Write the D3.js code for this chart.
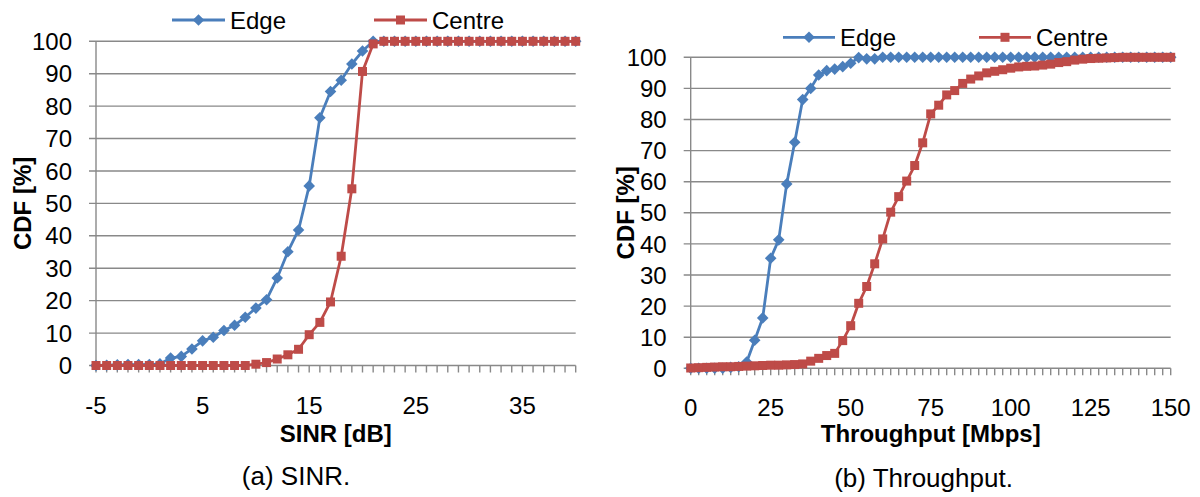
<!DOCTYPE html>
<html><head><meta charset="utf-8">
<script src="https://cdn.jsdelivr.net/npm/d3@7/dist/d3.min.js"></script>
<style>
body{margin:0;background:#fff;}
svg{display:block;font-family:"Liberation Sans",Arial,sans-serif;}
</style>
</head><body>
<svg id="chart" width="1200" height="497"></svg>
<script>
// ---------- DATA ----------
const seriesNames = ["Edge", "Centre"];
const yTickLabels = [0,10,20,30,40,50,60,70,80,90,100];

// (a) SINR panel
const sinrCategories = [-5,-4,-3,-2,-1,0,1,2,3,4,5,6,7,8,9,10,11,12,13,14,15,16,17,18,19,20,
  21,22,23,24,25,26,27,28,29,30,31,32,33,34,35,36,37,38,39,40];
const sinrTickLabels = [-5,5,15,25,35];
const sinrEdge = [0,0.1,0.2,0.3,0.3,0.3,0.5,2.3,2.8,5.1,7.6,8.7,10.8,12.4,14.9,17.7,20.3,27.0,35.1,41.8,
  55.4,76.4,84.5,88.0,93.0,97.0,100,100,100,100,100,100,100,100,100,100,100,100,100,100,100,100,100,100,100,100];
const sinrCentre = [0,0,0,0,0,0,0,0,0,0,0,0,0,0,0,0.4,0.9,2.0,3.3,5.0,
  9.5,13.3,19.6,33.7,54.5,90.7,99.2,100,100,100,100,100,100,100,100,100,100,100,100,100,100,100,100,100,100,100];

// (b) Throughput panel
const tputCategories = [0,2.5,5,7.5,10,12.5,15,17.5,20,22.5,25,27.5,30,32.5,35,37.5,40,42.5,45,47.5,
  50,52.5,55,57.5,60,62.5,65,67.5,70,72.5,75,77.5,80,82.5,85,87.5,90,92.5,95,97.5,
  100,102.5,105,107.5,110,112.5,115,117.5,120,122.5,125,127.5,130,132.5,135,137.5,140,142.5,145,147.5,150];
const tputTickLabels = [0,25,50,75,100,125,150];
const tputEdge = [0,0,0,0,0,0.3,0.5,2.0,9.0,16.2,35.4,41.3,59.3,72.7,86.4,90.0,94.3,95.7,96.2,97.0,
  98.1,99.9,99.5,99.5,100,100,100,100,100,100,100,100,100,100,100,100,100,100,100,100,
  100,100,100,100,100,100,100,100,100,100,100,100,100,100,100,100,100,100,100,100,100];
const tputCentre = [0.1,0.2,0.3,0.4,0.5,0.5,0.6,0.7,0.8,0.9,1.0,1.0,1.1,1.2,1.4,2.3,3.2,4.1,4.8,8.9,
  13.7,20.9,26.3,33.6,41.6,50.2,55.2,60.2,65.2,72.5,81.8,84.6,87.9,89.3,91.6,93.0,94.0,95.0,95.5,96.0,
  96.5,96.9,97.1,97.2,97.5,97.8,98.3,98.6,99.1,99.4,99.6,99.7,99.8,99.9,100,100,100,100,100,100,100];

// ---------- STYLE ----------
const COLORS = {Edge: "#4a7ebb", Centre: "#be4b48"};
const GRID = "#898989";
const FONT = 24;

const svg = d3.select("#chart");

function diamond(g, x, y, c) {
  const r = 5.8;
  g.append("path").attr("d", `M${x},${y-r}L${x+r},${y}L${x},${y+r}L${x-r},${y}Z`).attr("fill", c);
}
function square(g, x, y, c) {
  const s = 9;
  g.append("rect").attr("x", x - s/2).attr("y", y - s/2).attr("width", s).attr("height", s).attr("fill", c);
}
const markerFn = {Edge: diamond, Centre: square};

function panel(cfg) {
  const g = svg.append("g");
  const x = d3.scaleLinear().domain(cfg.xDomain).range(cfg.xRange);
  const y = d3.scaleLinear().domain([0, 100]).range(cfg.yRange);

  g.selectAll(".grid").data(yTickLabels).join("line")
    .attr("x1", cfg.xRange[0] - 7).attr("x2", cfg.xRange[1])
    .attr("y1", d => y(d)).attr("y2", d => y(d))
    .attr("stroke", GRID).attr("stroke-width", 1.4);

  g.append("line").attr("x1", cfg.xRange[0]).attr("x2", cfg.xRange[0])
    .attr("y1", y(100)).attr("y2", y(0)).attr("stroke", GRID).attr("stroke-width", 1.4);

  g.selectAll(".xt").data(cfg.categories).join("line")
    .attr("x1", d => x(d)).attr("x2", d => x(d))
    .attr("y1", y(0)).attr("y2", y(0) + 7)
    .attr("stroke", GRID).attr("stroke-width", 1.4);

  g.selectAll(".yl").data(yTickLabels).join("text")
    .attr("x", cfg.xRange[0] - 24).attr("y", d => y(d)).attr("dy", "0.36em")
    .attr("text-anchor", "end").attr("font-size", FONT).attr("fill", "#000")
    .text(d => d);

  g.selectAll(".xl").data(cfg.xTickLabels).join("text")
    .attr("x", d => x(d)).attr("y", cfg.xLabelY)
    .attr("text-anchor", "middle").attr("font-size", FONT).attr("fill", "#000")
    .text(d => d);

  const series = [{name: "Edge", values: cfg.edge}, {name: "Centre", values: cfg.centre}];
  series.forEach(s => {
    const pts = cfg.categories.map((c, i) => [x(c), y(s.values[i])]);
    g.append("path").attr("d", d3.line()(pts)).attr("fill", "none")
      .attr("stroke", COLORS[s.name]).attr("stroke-width", 2.8).attr("stroke-linejoin", "round");
    const mg = g.append("g");
    pts.forEach(p => markerFn[s.name](mg, p[0], p[1], COLORS[s.name]));
  });

  const yc = (cfg.yRange[0] + cfg.yRange[1]) / 2;
  g.append("text").attr("transform", `translate(${cfg.yTitleX},${yc}) rotate(-90)`)
    .attr("dy", "0.36em").attr("text-anchor", "middle").attr("font-size", FONT)
    .attr("font-weight", "bold").text("CDF [%]");

  g.append("text").attr("x", (cfg.xRange[0] + cfg.xRange[1]) / 2).attr("y", cfg.xTitleY)
    .attr("text-anchor", "middle").attr("font-size", FONT).attr("font-weight", "bold")
    .text(cfg.xTitle);

  g.append("text").attr("x", cfg.captionX).attr("y", cfg.captionY)
    .attr("text-anchor", "middle").attr("font-size", 26).text(cfg.caption);

  cfg.legend.forEach((L, i) => {
    const name = seriesNames[i];
    g.append("line").attr("x1", L.x1).attr("x2", L.x2).attr("y1", cfg.legendY).attr("y2", cfg.legendY)
      .attr("stroke", COLORS[name]).attr("stroke-width", 2.8);
    markerFn[name](g, (L.x1 + L.x2) / 2, cfg.legendY, COLORS[name]);
    g.append("text").attr("x", L.x2 + 5).attr("y", cfg.legendY + 8.5)
      .attr("font-size", FONT).text(name);
  });
}

panel({
  categories: sinrCategories, xDomain: [-5, 40], xRange: [96, 575.7], yRange: [365.5, 41.3],
  xTickLabels: sinrTickLabels, edge: sinrEdge, centre: sinrCentre,
  xLabelY: 413.5, yTitleX: 22, xTitle: "SINR [dB]", xTitleY: 441.5,
  caption: "(a) SINR.", captionX: 296, captionY: 485,
  legendY: 20, legend: [{x1: 172, x2: 225}, {x1: 374, x2: 427}]
});

panel({
  categories: tputCategories, xDomain: [0, 150], xRange: [690.7, 1170.7], yRange: [368.3, 57.3],
  xTickLabels: tputTickLabels, edge: tputEdge, centre: tputCentre,
  xLabelY: 415.5, yTitleX: 625.5, xTitle: "Throughput [Mbps]", xTitleY: 441.5,
  caption: "(b) Throughput.", captionX: 923.5, captionY: 487,
  legendY: 37.3, legend: [{x1: 783, x2: 835}, {x1: 979, x2: 1031}]
});
</script>
</body></html>
